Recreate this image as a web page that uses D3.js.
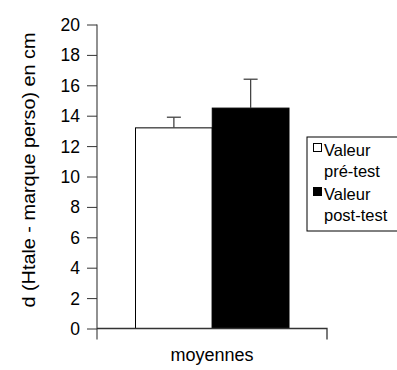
<!DOCTYPE html>
<html>
<head>
<meta charset="utf-8">
<script src="https://cdn.jsdelivr.net/npm/d3@7"></script>
<style>
  html, body { margin: 0; padding: 0; background: #fff; }
  svg { display: block; font-family: "Liberation Sans", Arial, sans-serif; }
</style>
</head>
<body>
<svg id="chart" width="397" height="370"></svg>
<script>
// Mean distance (cm) before and after the test, with error bars
const categories = ["moyennes"];
const seriesNames = ["Valeur pré-test", "Valeur post-test"];
const seriesValues = [13.2, 14.5];
const seriesErrors = [0.7, 1.9];
const seriesFills = ["#ffffff", "#000000"];
const yTicks = [0, 2, 4, 6, 8, 10, 12, 14, 16, 18, 20];
const legendLines = [["Valeur", "pré-test"], ["Valeur", "post-test"]];

const svg = d3.select("#chart");
const plot = { left: 97, right: 327, top: 24.5, bottom: 328.5 };
const FONT = "Liberation Sans, Arial, sans-serif";

const y = d3.scaleLinear().domain([0, 20]).range([plot.bottom, plot.top]);
const x = d3.scaleBand().domain(categories).range([plot.left, plot.right]);
const xs = d3.scaleBand().domain(seriesNames)
  .range([x(categories[0]) + 38.5, x(categories[0]) + x.bandwidth() - 38]);

// Bars
const bars = svg.append("g");
seriesNames.forEach((name, i) => {
  bars.append("rect")
    .attr("x", xs(name))
    .attr("y", y(seriesValues[i]))
    .attr("width", xs.bandwidth())
    .attr("height", y(0) - y(seriesValues[i]))
    .attr("fill", seriesFills[i])
    .attr("stroke", "#000")
    .attr("stroke-width", 1);
});

// Error bars (upper whisker)
const err = svg.append("g").attr("stroke", "#444").attr("stroke-width", 1.3);
seriesNames.forEach((name, i) => {
  const cx = xs(name) + xs.bandwidth() / 2;
  const top = y(seriesValues[i] + seriesErrors[i]);
  const base = y(seriesValues[i]);
  err.append("line").attr("x1", cx).attr("x2", cx).attr("y1", top).attr("y2", base);
  err.append("line").attr("x1", cx - 7).attr("x2", cx + 7).attr("y1", top).attr("y2", top);
});

// Y axis
const yAxis = d3.axisLeft(y).tickValues(yTicks).tickSize(10).tickPadding(7);
const gy = svg.append("g").attr("transform", `translate(${plot.left},0)`).call(yAxis);
gy.select(".domain").attr("d", `M0,${plot.top}V${plot.bottom + 11}`).attr("stroke", "#555").attr("stroke-width", 1.3);
gy.selectAll(".tick line").attr("stroke", "#333");
gy.selectAll(".tick text").attr("font-size", 17.5).attr("fill", "#000")
  .attr("font-family", FONT).attr("dy", "0.34em");

// X axis
const xAxis = d3.axisBottom(x).tickSize(0).tickPadding(20);
const gx = svg.append("g").attr("transform", `translate(0,${plot.bottom})`).call(xAxis);
gx.select(".domain").attr("d", `M${plot.left},0H${plot.right}V11`).attr("stroke", "#333").attr("stroke-width", 1.3).attr("fill", "none");
gx.selectAll(".tick text").attr("font-size", 18).attr("fill", "#000")
  .attr("font-family", FONT);

// Y axis title
svg.append("text")
  .attr("transform", `translate(35,170) rotate(-90)`)
  .attr("text-anchor", "middle")
  .attr("font-size", 18)
  .attr("textLength", 275)
  .attr("lengthAdjust", "spacingAndGlyphs")
  .text("d (Htale - marque perso) en cm");

// Legend
const lg = svg.append("g").attr("transform", "translate(307,137)");
lg.append("rect").attr("x", 0).attr("y", 0).attr("width", 100).attr("height", 94)
  .attr("fill", "#fff").attr("stroke", "#000").attr("stroke-width", 1);
legendLines.forEach((lines, i) => {
  const oy = i * 44;
  lg.append("rect").attr("x", 6.5).attr("y", oy + 6.5).attr("width", 8).attr("height", 8)
    .attr("fill", seriesFills[i]).attr("stroke", "#000").attr("stroke-width", 1);
  lines.forEach((t, j) => {
    lg.append("text").attr("x", 17).attr("y", oy + 19 + j * 21)
      .attr("font-size", 16.5).text(t);
  });
});
</script>
</body>
</html>
